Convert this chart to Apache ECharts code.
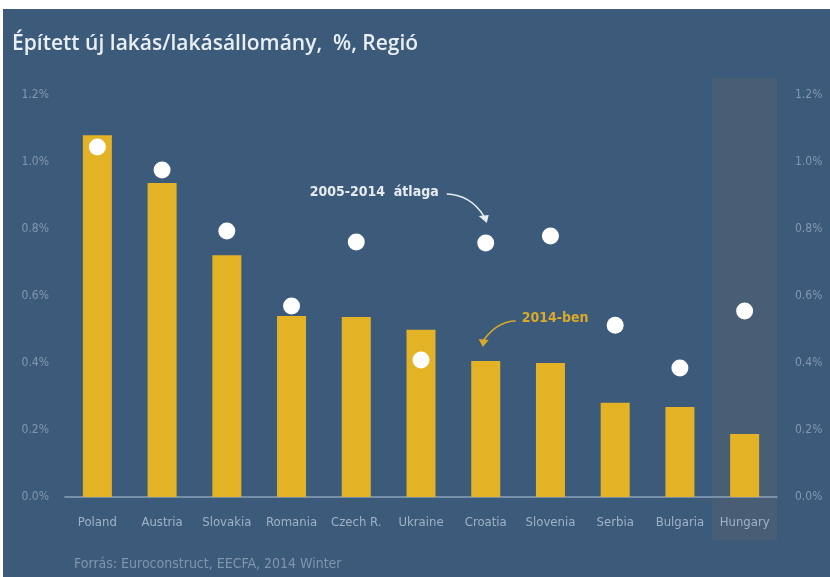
<!DOCTYPE html>
<html>
<head>
<meta charset="utf-8">
<script src="https://cdn.jsdelivr.net/npm/echarts@6/dist/echarts.min.js"></script>
<style>
html,body{margin:0;padding:0;background:#ffffff;}
#wrap{position:absolute;left:3px;top:9px;width:827px;height:568px;background:#3c5a7a;}
#chart{position:absolute;left:0;top:0;width:830px;height:577px;}
</style>
</head>
<body>
<div id="wrap"></div>
<div id="chart"></div>
<script>
const categories = ['Poland','Austria','Slovakia','Romania','Czech R.','Ukraine','Croatia','Slovenia','Serbia','Bulgaria','Hungary'];
const value2014 = [1.08, 0.937, 0.722, 0.540, 0.537, 0.499, 0.406, 0.400, 0.281, 0.269, 0.188];
const avg2005_2014 = [1.045, 0.976, 0.794, 0.570, 0.761, 0.409, 0.758, 0.779, 0.513, 0.385, 0.555];
const tickValues = [0, 0.2, 0.4, 0.6, 0.8, 1.0, 1.2];
const titleText = 'Épített új lakás/lakásállomány,  %, Regió';
const sourceText = 'Forrás: Euroconstruct, EECFA, 2014 Winter';
const avgLabel = '2005-2014  átlaga';
const yearLabel = '2014-ben';

const narrow = '"Liberation Sans Narrow", "DejaVu Sans Condensed", "Roboto", sans-serif';
const chart = echarts.init(document.getElementById('chart'), null, {renderer:'canvas'});
const fmt = v => v.toFixed(1) + '%';

const option = {
  backgroundColor: 'transparent',
  animation: false,
  grid: {left: 65, right: 53, top: 95, bottom: 80},
  xAxis: {
    type: 'category',
    data: categories,
    axisLine: {show: true, lineStyle: {color: '#8aa2bb', width: 1.5}},
    axisTick: {show: false},
    axisLabel: {color: '#9fb2c6', fontFamily: narrow, fontSize: 13, margin: 19, interval: 0}
  },
  yAxis: [{
    type: 'value', min: 0, max: 1.2, interval: 0.2,
    splitLine: {show: false},
    axisLine: {show: false}, axisTick: {show: false},
    axisLabel: {color: '#8298b0', fontFamily: narrow, fontSize: 12, margin: 16, formatter: fmt}
  },{
    type: 'value', min: 0, max: 1.2, interval: 0.2, position: 'right',
    splitLine: {show: false},
    axisLine: {show: false}, axisTick: {show: false},
    axisLabel: {color: '#8298b0', fontFamily: narrow, fontSize: 12, margin: 18, formatter: fmt}
  }],
  series: [{
    name: '2014-ben',
    type: 'bar',
    data: value2014,
    barWidth: 29,
    itemStyle: {color: '#e4b325'},
    z: 2
  },{
    name: '2005-2014 átlaga',
    type: 'scatter',
    data: avg2005_2014,
    symbol: 'circle',
    symbolSize: 17,
    itemStyle: {color: '#ffffff', opacity: 1},
    emphasis: {disabled: true},
    z: 3
  }]
};
chart.setOption(option);

function px(i, v){ return chart.convertToPixel({gridIndex:0}, [i, v]); }
const hx = px(categories.length - 1, 0);
const band = 64.8;
const a1 = px(6, avg2005_2014[6]);
const b1 = px(6, value2014[6]);

chart.setOption({
  graphic: [
    {type:'rect', z:-1, shape:{x: hx[0]-band/2, y: 78, width: band, height: 462}, style:{fill:'#485e75'}},
    {type:'text', left: 12, top: 34, style:{text: titleText, fill:'#e9eef3', font:'600 21px "Open Sans", "Noto Sans", sans-serif'}},
    {type:'text', left: 74, top: 557, style:{text: sourceText, fill:'#7f95ad', font:'14px ' + narrow}},
    {type:'text', x: a1[0]-176, y: a1[1]-58, style:{text: avgLabel, fill:'#e6ebf0', font:'bold 14px ' + narrow}},
    {type:'bezierCurve', shape:{x1: a1[0]-39, y1: a1[1]-49, cpx1: a1[0]-15, cpy1: a1[1]-48, x2: a1[0]-2, y2: a1[1]-27},
      style:{stroke:'#e6ebf0', lineWidth:1.6, fill:null}},
    {type:'polygon', shape:{points:[[a1[0]+3, a1[1]-28],[a1[0]-7, a1[1]-27],[a1[0]+1, a1[1]-20]]}, style:{fill:'#e6ebf0'}},
    {type:'text', x: b1[0]+36, y: b1[1]-50, style:{text: yearLabel, fill:'#d9a92a', font:'bold 14px ' + narrow}},
    {type:'bezierCurve', shape:{x1: b1[0]+30, y1: b1[1]-40, cpx1: b1[0]+12, cpy1: b1[1]-40, x2: b1[0]-2, y2: b1[1]-21},
      style:{stroke:'#d9a92a', lineWidth:1.6, fill:null}},
    {type:'polygon', shape:{points:[[b1[0]-7, b1[1]-22],[b1[0]+3, b1[1]-21],[b1[0]-3, b1[1]-14]]}, style:{fill:'#d9a92a'}}
  ]
});
</script>
</body>
</html>
